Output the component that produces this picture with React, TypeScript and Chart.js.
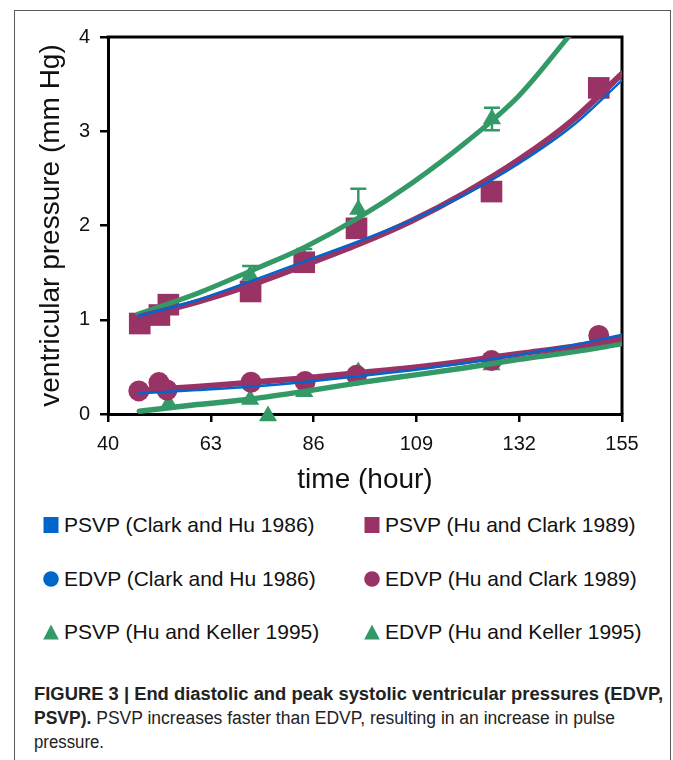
import React, { useEffect, useRef } from "react";
import { Chart, registerables } from "chart.js";

Chart.register(...registerables);

// ---------- data ----------
const xTicks = [40, 63, 86, 109, 132, 155];
const yTicks = [0, 1, 2, 3, 4];

// measured points, Hu and Clark 1989
const hc89PsvpX = [47.1, 51.5, 53.5, 71.9, 83.9, 95.6, 125.8, 149.8];
const hc89PsvpY = [0.96, 1.05, 1.16, 1.3, 1.61, 1.97, 2.36, 3.46];
const hc89EdvpX = [46.9, 51.4, 53.2, 72.0, 84.1, 95.6, 125.8, 149.8];
const hc89EdvpY = [0.245, 0.333, 0.255, 0.337, 0.344, 0.41, 0.567, 0.833];

// measured points, Hu and Keller 1995
const hk95PsvpX = [53.6, 71.8, 83.9, 96.0, 125.9];
const hk95PsvpY = [1.15, 1.47, 1.65, 2.17, 3.13];
const hk95PsvpErr = [0.04, 0.1, 0.1, 0.22, 0.12];
const hk95EdvpX = [53.6, 71.8, 75.8, 83.9, 96.0, 125.8];
const hk95EdvpY = [0.11, 0.155, -0.02, 0.235, 0.445, 0.52];

// fitted curves
const fitX = [47, 60, 72, 84, 96, 108, 120, 132, 144, 155];
const ch86PsvpFit = [1.04, 1.21, 1.41, 1.62, 1.83, 2.06, 2.33, 2.66, 3.06, 3.54];
const hc89PsvpFit = [1.03, 1.19, 1.37, 1.58, 1.8, 2.05, 2.35, 2.7, 3.12, 3.61];
const ch86EdvpFit = [0.22, 0.255, 0.29, 0.34, 0.4, 0.465, 0.54, 0.63, 0.73, 0.84];
const hc89EdvpFit = [0.25, 0.29, 0.335, 0.38, 0.435, 0.49, 0.56, 0.64, 0.715, 0.8];
const hk95EdvpFit = [0.03, 0.1, 0.16, 0.24, 0.33, 0.41, 0.49, 0.58, 0.66, 0.745];
const hk95PsvpFitX = [46.7, 60, 72, 84, 96, 108, 120, 132, 143.5];
const hk95PsvpFit = [1.06, 1.28, 1.52, 1.77, 2.08, 2.45, 2.88, 3.38, 4.03];

const legendLabels = [
  "PSVP (Clark and Hu 1986)",
  "PSVP (Hu and Clark 1989)",
  "EDVP (Clark and Hu 1986)",
  "EDVP (Hu and Clark 1989)",
  "PSVP (Hu and Keller 1995)",
  "EDVP (Hu and Keller 1995)",
];
const legendShapes = ["square", "square", "circle", "circle", "triangle", "triangle"];

const xAxisTitle = "time (hour)";
const yAxisTitle = "ventricular pressure (mm Hg)";

// ---------- styles ----------
const BLUE = "#0066cc";
const PURPLE = "#993366";
const GREEN = "#339966";
const legendColors = [BLUE, PURPLE, BLUE, PURPLE, GREEN, GREEN];
const FONT = '"Liberation Sans", Arial, Helvetica, sans-serif';
const TEXT = "#111111";
const captionWidths = [629, 581, 70];

const pts = (xs: number[], ys: number[]) => xs.map((x, i) => ({ x, y: ys[i] }));

const errorBarPlugin = {
  id: "errorBars",
  afterDatasetDraw(chart: any, args: any) {
    const ds = chart.data.datasets[args.index];
    if (!ds.errors) return;
    const { ctx } = chart;
    const xs = chart.scales.x;
    const ys = chart.scales.y;
    ctx.save();
    ctx.strokeStyle = ds.errorColor;
    ctx.lineWidth = 2.5;
    ds.data.forEach((p: any, i: number) => {
      const e = ds.errors[i];
      const px = xs.getPixelForValue(p.x);
      const top = ys.getPixelForValue(p.y + e);
      const bot = ys.getPixelForValue(p.y - e);
      ctx.beginPath();
      ctx.moveTo(px, top);
      ctx.lineTo(px, bot);
      ctx.moveTo(px - 8, top);
      ctx.lineTo(px + 8, top);
      ctx.moveTo(px - 8, bot);
      ctx.lineTo(px + 8, bot);
      ctx.stroke();
    });
    ctx.restore();
  },
};

const framePlugin = {
  id: "plotFrame",
  beforeDatasetsDraw(chart: any) {
    const { ctx, chartArea: a } = chart;
    ctx.save();
    ctx.strokeStyle = "#000";
    ctx.lineWidth = 3;
    ctx.beginPath();
    ctx.moveTo(a.left - 1.5, a.top);
    ctx.lineTo(a.right, a.top);
    ctx.lineTo(a.right, a.bottom);
    ctx.stroke();
    ctx.restore();
  },
};

function lineDs(label: string, xs: number[], ys: number[], color: string, width: number) {
  return {
    label,
    data: pts(xs, ys),
    showLine: true,
    borderColor: color,
    backgroundColor: color,
    borderWidth: width,
    borderCapStyle: "round",
    pointRadius: 0,
    pointHoverRadius: 0,
    cubicInterpolationMode: "monotone",
  };
}

function markerDs(label: string, xs: number[], ys: number[], color: string, style: string, r: number) {
  return {
    label,
    data: pts(xs, ys),
    showLine: false,
    pointStyle: style,
    pointRadius: r,
    pointHoverRadius: r,
    pointBackgroundColor: color,
    pointBorderWidth: 0,
    borderWidth: 0,
    backgroundColor: color,
    borderColor: color,
    clip: false,
  };
}

function Marker({ shape, color }: { shape: string; color: string }) {
  return (
    <svg width={16} height={16} style={{ display: "block", marginRight: 5 }}>
      {shape === "square" && <rect x={0.5} y={0} width={15} height={16} fill={color} />}
      {shape === "circle" && <circle cx={8} cy={8} r={7.8} fill={color} />}
      {shape === "triangle" && <polygon points="8,0.5 15.8,15.5 0.2,15.5" fill={color} />}
    </svg>
  );
}

export default function App() {
  const canvasRef = useRef<HTMLCanvasElement | null>(null);
  const lineRefs = useRef<(HTMLDivElement | null)[]>([]);

  useEffect(() => {
    if (!canvasRef.current) return;
    const gridCfg = {
      display: true,
      drawOnChartArea: false,
      drawTicks: true,
      tickLength: 8,
      lineWidth: 2.5,
      tickWidth: 2.5,
      color: "#000",
      tickColor: "#000",
    };
    const chart = new Chart(canvasRef.current, {
      type: "scatter",
      data: {
        datasets: [
          lineDs("PSVP (Clark and Hu 1986) fit", fitX, ch86PsvpFit, BLUE, 2.5),
          lineDs("EDVP (Clark and Hu 1986) fit", fitX, ch86EdvpFit, BLUE, 2.5),
          lineDs("PSVP (Hu and Clark 1989) fit", fitX, hc89PsvpFit, PURPLE, 6),
          lineDs("EDVP (Hu and Clark 1989) fit", fitX, hc89EdvpFit, PURPLE, 6),
          lineDs("PSVP (Hu and Keller 1995) fit", hk95PsvpFitX, hk95PsvpFit, GREEN, 5),
          lineDs("EDVP (Hu and Keller 1995) fit", fitX, hk95EdvpFit, GREEN, 5.5),
          markerDs("PSVP (Hu and Clark 1989)", hc89PsvpX, hc89PsvpY, PURPLE, "rect", 15.3),
          markerDs("EDVP (Hu and Clark 1989)", hc89EdvpX, hc89EdvpY, PURPLE, "circle", 10.5),
          {
            ...markerDs("PSVP (Hu and Keller 1995)", hk95PsvpX, hk95PsvpY, GREEN, "triangle", 10.5),
            errors: hk95PsvpErr,
            errorColor: GREEN,
          },
          markerDs("EDVP (Hu and Keller 1995)", hk95EdvpX, hk95EdvpY, GREEN, "triangle", 10.5),
        ] as any,
      },
      options: {
        animation: false,
        responsive: false,
        events: [],
        layout: { padding: { left: 30, top: 37, right: 51, bottom: 0 } },
        plugins: {
          legend: { display: false },
          tooltip: { enabled: false },
        },
        scales: {
          x: {
            type: "linear",
            min: 40,
            max: 155,
            afterBuildTicks: (s: any) => {
              s.ticks = xTicks.map((v) => ({ value: v }));
            },
            afterFit: (s: any) => {
              s.height = 91;
            },
            grid: gridCfg,
            border: { display: true, color: "#000", width: 3 },
            ticks: {
              color: TEXT,
              font: { size: 20, family: FONT },
              padding: 10,
              maxRotation: 0,
              autoSkip: false,
            },
            title: {
              display: true,
              text: xAxisTitle,
              color: TEXT,
              font: { size: 28, family: FONT },
              padding: { top: 0, bottom: 8 },
            },
          },
          y: {
            type: "linear",
            min: 0,
            max: 4,
            afterBuildTicks: (s: any) => {
              s.ticks = yTicks.map((v) => ({ value: v }));
            },
            afterFit: (s: any) => {
              s.width = 78;
            },
            grid: gridCfg,
            border: { display: true, color: "#000", width: 3 },
            ticks: {
              color: TEXT,
              font: { size: 20, family: FONT },
              padding: 10,
              autoSkip: false,
            },
            title: {
              display: true,
              text: yAxisTitle,
              color: TEXT,
              font: { size: 28, family: FONT },
              padding: { top: 4, bottom: 0 },
            },
          },
        },
      } as any,
      plugins: [framePlugin, errorBarPlugin],
    });

    // condense each caption line to the reference's line width
    lineRefs.current.forEach((el, i) => {
      if (!el) return;
      const w = el.getBoundingClientRect().width;
      if (w > 0) el.style.transform = `scaleX(${captionWidths[i] / w})`;
    });
    return () => chart.destroy();
  }, []);

  const rows = [525, 579, 632];
  const cols = [43, 364];
  const lineStyle: React.CSSProperties = {
    display: "inline-block",
    whiteSpace: "nowrap",
    transformOrigin: "left top",
  };

  return (
    <div
      style={{
        position: "absolute",
        left: 0,
        top: 0,
        width: 673,
        height: 760,
        overflow: "hidden",
        background: "#fff",
      }}
    >
      <div
        style={{
          position: "absolute",
          left: 14,
          top: 10,
          width: 655,
          height: 800,
          borderLeft: "1.5px solid #5a5a5a",
          borderTop: "1.5px solid #5a5a5a",
          borderRight: "1.5px solid #5a5a5a",
        }}
      />
      <canvas
        ref={canvasRef}
        width={673}
        height={505}
        style={{ position: "absolute", left: 0, top: 0, width: 673, height: 505 }}
      />
      {legendLabels.map((lab, i) => (
        <div
          key={lab}
          style={{
            position: "absolute",
            left: cols[i % 2],
            top: rows[Math.floor(i / 2)] - 13,
            height: 26,
            display: "flex",
            alignItems: "center",
            fontFamily: FONT,
            fontSize: 21,
            color: TEXT,
            whiteSpace: "nowrap",
          }}
        >
          <Marker shape={legendShapes[i]} color={legendColors[i]} />
          <span>{lab}</span>
        </div>
      ))}
      <div
        style={{
          position: "absolute",
          left: 34,
          top: 682,
          fontFamily: FONT,
          fontSize: 18,
          lineHeight: "24px",
          color: "#222",
          width: 700,
        }}
      >
        <div>
          <div ref={(el) => { lineRefs.current[0] = el; }} style={{ ...lineStyle, fontWeight: 700 }}>
            FIGURE 3 | End diastolic and peak systolic ventricular pressures (EDVP,
          </div>
        </div>
        <div>
          <div ref={(el) => { lineRefs.current[1] = el; }} style={lineStyle}>
            <span style={{ fontWeight: 700 }}>PSVP).</span> PSVP increases faster than EDVP, resulting in an increase in pulse
          </div>
        </div>
        <div>
          <div ref={(el) => { lineRefs.current[2] = el; }} style={lineStyle}>
            pressure.
          </div>
        </div>
      </div>
    </div>
  );
}
